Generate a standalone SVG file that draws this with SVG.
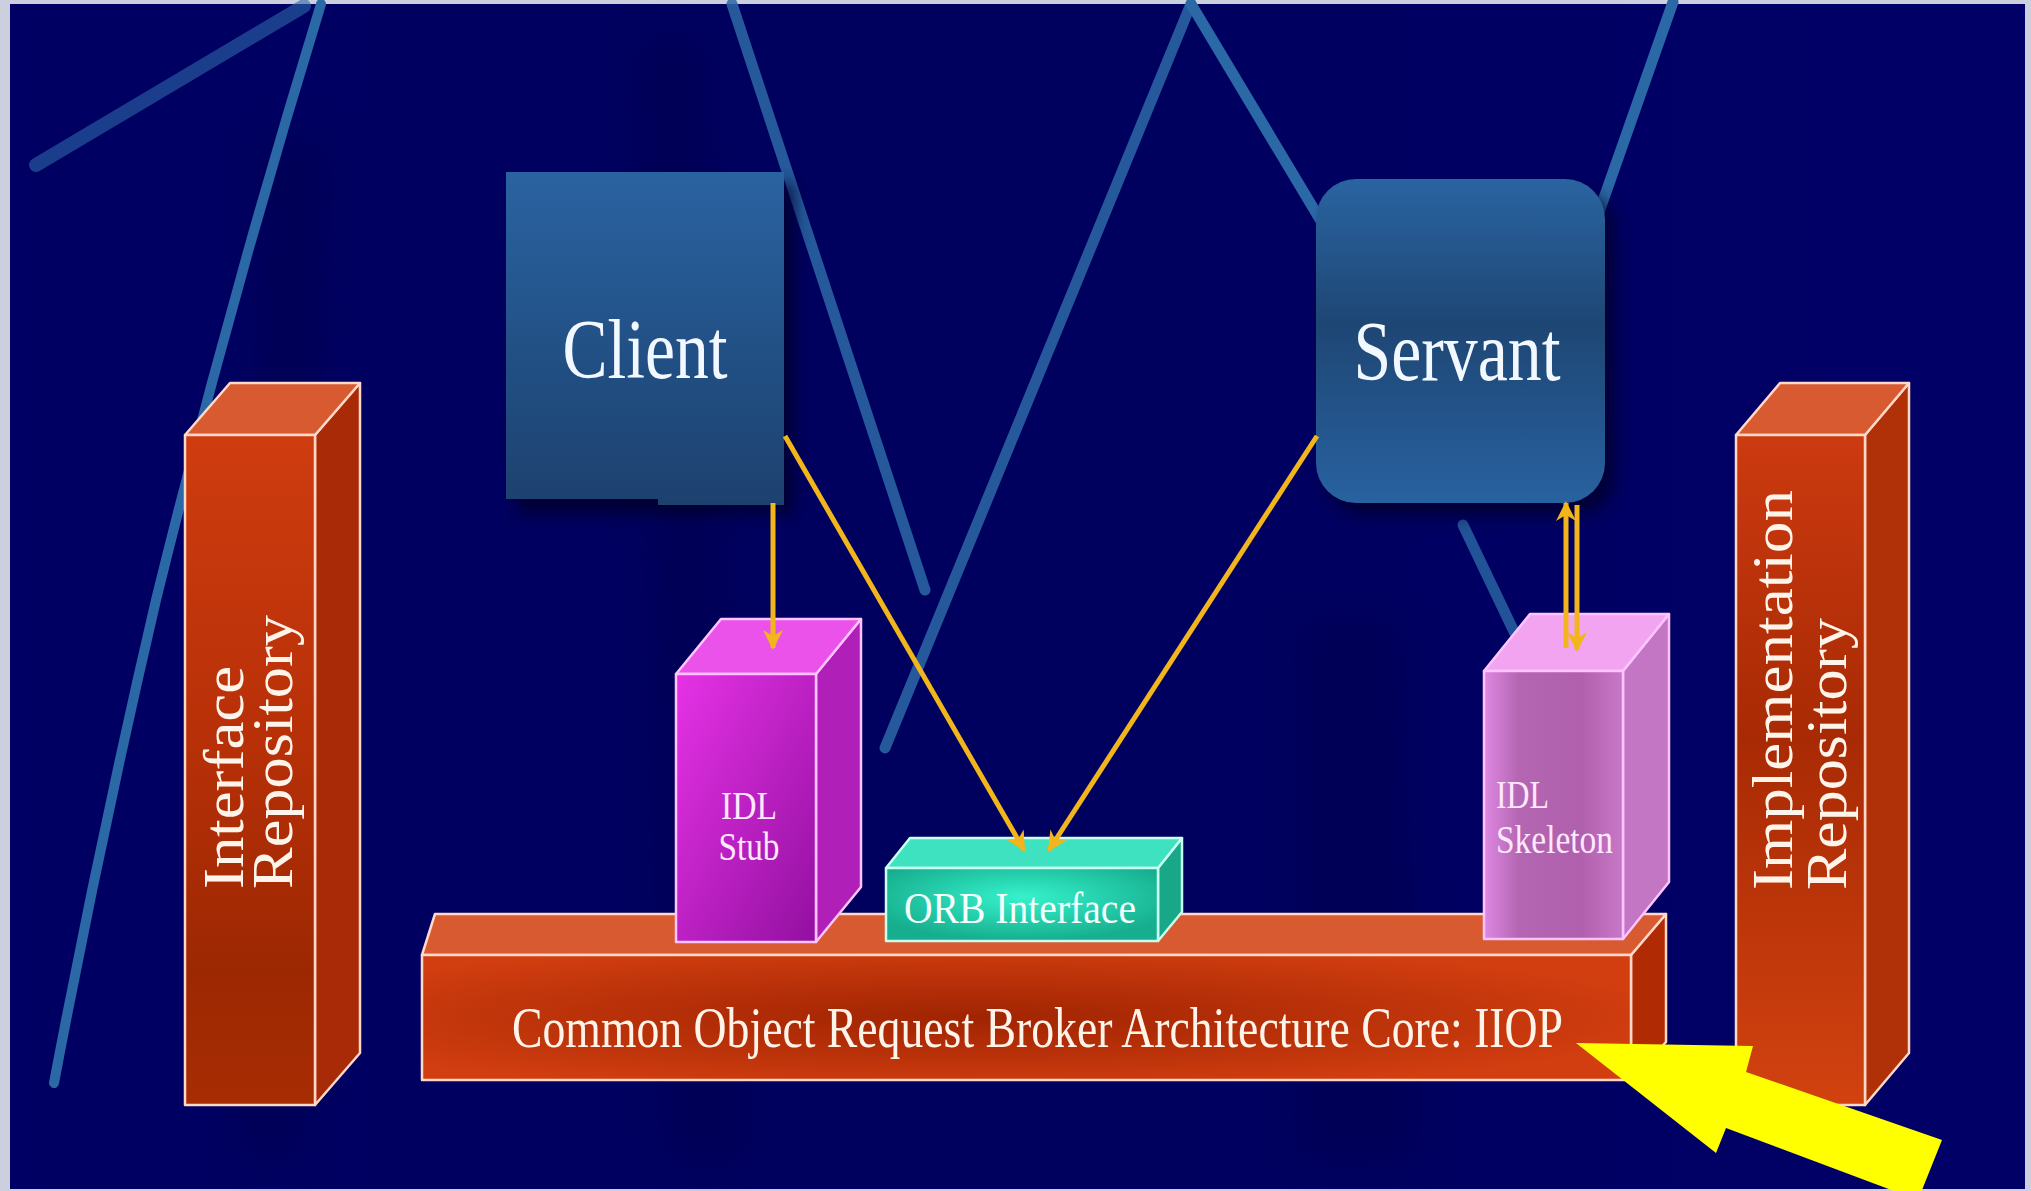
<svg xmlns="http://www.w3.org/2000/svg" width="2031" height="1191" viewBox="0 0 2031 1191">
  <defs>
    <style>
      .serif { font-family: "Liberation Serif", "Times New Roman", serif; }
      .streak { fill: none; stroke: #2b68a6; stroke-linecap: round; }
      .edge-warm { stroke: #ffd8c8; stroke-width: 2.5; stroke-linejoin: round; }
      .edge-pink { stroke: #ffc4ff; stroke-width: 2.5; stroke-linejoin: round; }
      .edge-mint { stroke: #c8fff0; stroke-width: 2.5; stroke-linejoin: round; }
      .label-warm { fill: #fff4ea; }
      .label-pink { fill: #ffe8ff; }
      .wire { fill: none; stroke: #f2b51c; stroke-width: 5; }
    </style>
    <marker id="head" viewBox="0 0 10 10" refX="9" refY="5" markerUnits="userSpaceOnUse" markerWidth="26" markerHeight="20" orient="auto">
      <path d="M0,0 L10,5 L0,10 L3,5 z" fill="#f2b51c"/>
    </marker>
    <linearGradient id="bgShade" x1="0" y1="0" x2="1" y2="0">
      <stop offset="0" stop-color="#000064"/>
      <stop offset="0.5" stop-color="#00005e"/>
      <stop offset="1" stop-color="#000068"/>
    </linearGradient>
    <linearGradient id="clientFill" x1="0" y1="0" x2="0" y2="1">
      <stop offset="0" stop-color="#2a63a1"/>
      <stop offset="0.6" stop-color="#214e82"/>
      <stop offset="1" stop-color="#1d416f"/>
    </linearGradient>
    <linearGradient id="servantFill" x1="0" y1="0" x2="0" y2="1">
      <stop offset="0" stop-color="#2a64a1"/>
      <stop offset="0.45" stop-color="#1e4674"/>
      <stop offset="1" stop-color="#2862a0"/>
    </linearGradient>
    <linearGradient id="repoFront" x1="0" y1="0" x2="0" y2="1">
      <stop offset="0" stop-color="#cf3c10"/>
      <stop offset="0.45" stop-color="#b83008"/>
      <stop offset="0.8" stop-color="#9c2802"/>
      <stop offset="1" stop-color="#a82c04"/>
    </linearGradient>
    <linearGradient id="implFront" x1="0" y1="0" x2="0" y2="1">
      <stop offset="0" stop-color="#cc3a10"/>
      <stop offset="0.45" stop-color="#a82a04"/>
      <stop offset="1" stop-color="#d24210"/>
    </linearGradient>
    <radialGradient id="coreFront" cx="0.45" cy="0.5" r="0.6">
      <stop offset="0" stop-color="#a02402"/>
      <stop offset="1" stop-color="#d23e10"/>
    </radialGradient>
    <linearGradient id="stubFront" x1="0" y1="0" x2="1" y2="1">
      <stop offset="0" stop-color="#e632e6"/>
      <stop offset="1" stop-color="#9210a0"/>
    </linearGradient>
    <linearGradient id="skelFront" x1="0" y1="0" x2="1" y2="0">
      <stop offset="0" stop-color="#de88e2"/>
      <stop offset="0.25" stop-color="#b466b2"/>
      <stop offset="0.7" stop-color="#b060ac"/>
      <stop offset="1" stop-color="#c878c8"/>
    </linearGradient>
    <radialGradient id="orbFront" cx="0.5" cy="0.4" r="0.6">
      <stop offset="0" stop-color="#36f2cc"/>
      <stop offset="1" stop-color="#16ae8e"/>
    </radialGradient>
    <filter id="soft" x="-20%" y="-20%" width="140%" height="140%">
      <feGaussianBlur stdDeviation="8"/>
    </filter>
    <filter id="haze" x="-50%" y="-10%" width="200%" height="120%">
      <feGaussianBlur stdDeviation="20"/>
    </filter>
    <filter id="blur2" x="-10%" y="-200%" width="120%" height="500%">
      <feGaussianBlur stdDeviation="1.5"/>
    </filter>
  </defs>

  <!-- frame and backdrop -->
  <rect x="0" y="0" width="2031" height="1191" fill="#cbcfde"/>
  <rect x="10" y="4" width="2015" height="1185" fill="url(#bgShade)"/>
  <g opacity="0.3" filter="url(#haze)">
    <polygon points="260,140 330,140 300,1160 240,1160" fill="#00003a"/>
    <polygon points="640,40 700,40 740,1160 670,1160" fill="#00003e"/>
    <polygon points="1300,620 1400,620 1420,1160 1300,1160" fill="#00003e"/>
  </g>

  <!-- light streaks across the backdrop -->
  <g id="streaks">
    <path class="streak" d="M304,6 L36,165" stroke="#1c4488" stroke-width="14" opacity="0.6"/>
    <path class="streak" d="M321,4 Q230,300 156,600 Q100,840 54,1083" stroke-width="10"/>
    <path class="streak" d="M732,4 L925,590" stroke-width="11" opacity="0.85"/>
    <path class="streak" d="M1191,4 L885,748" stroke-width="11" opacity="0.85"/>
    <path class="streak" d="M1191,4 L1330,236" stroke-width="11"/>
    <path class="streak" d="M1673,2 L1598,215" stroke-width="11"/>
    <path class="streak" d="M1463,525 L1518,640" stroke-width="11" opacity="0.8"/>
  </g>

  <!-- Interface Repository -->
  <g id="interface-repository">
    <polygon points="315,435 360,383 360,1053 315,1105" fill="#a82a06" class="edge-warm"/>
    <polygon points="185,435 230,383 360,383 315,435" fill="#d85a30" class="edge-warm"/>
    <rect x="185" y="435" width="130" height="670" fill="url(#repoFront)" class="edge-warm"/>
    <text class="serif label-warm" font-size="58" transform="translate(243,889) rotate(-90)" textLength="223" lengthAdjust="spacingAndGlyphs">Interface</text>
    <text class="serif label-warm" font-size="58" transform="translate(292,889) rotate(-90)" textLength="274" lengthAdjust="spacingAndGlyphs">Repository</text>
  </g>

  <!-- Implementation Repository -->
  <g id="implementation-repository">
    <polygon points="1865,435 1909,383 1909,1053 1865,1105" fill="#b03008" class="edge-warm"/>
    <polygon points="1736,435 1780,383 1909,383 1865,435" fill="#d85a30" class="edge-warm"/>
    <rect x="1736" y="435" width="129" height="670" fill="url(#implFront)" class="edge-warm"/>
    <text class="serif label-warm" font-size="58" transform="translate(1792,890) rotate(-90)" textLength="400" lengthAdjust="spacingAndGlyphs">Implementation</text>
    <text class="serif label-warm" font-size="58" transform="translate(1846,890) rotate(-90)" textLength="272" lengthAdjust="spacingAndGlyphs">Repository</text>
  </g>

  <!-- Client -->
  <g id="client">
    <rect x="516" y="184" width="278" height="330" fill="#00002a" opacity="0.8" filter="url(#soft)"/>
    <path d="M506,172 H784 V505 H658 V499 H506 Z" fill="url(#clientFill)"/>
    <text class="serif" font-size="84" fill="#f2f8ff" x="645" y="378" text-anchor="middle" textLength="165" lengthAdjust="spacingAndGlyphs">Client</text>
  </g>

  <!-- Servant -->
  <g id="servant">
    <rect x="1326" y="191" width="289" height="324" rx="40" fill="#00002a" opacity="0.8" filter="url(#soft)"/>
    <rect x="1316" y="179" width="289" height="324" rx="40" fill="url(#servantFill)"/>
    <text class="serif" font-size="84" fill="#f2f8ff" x="1457" y="380" text-anchor="middle" textLength="207" lengthAdjust="spacingAndGlyphs">Servant</text>
  </g>

  <!-- CORBA core bar -->
  <g id="corba-core">
    <polygon points="1631,955 1666,914 1666,1042 1631,1080" fill="#b02a04" class="edge-warm"/>
    <polygon points="422,955 435,914 1666,914 1631,955" fill="#d85a30" class="edge-warm"/>
    <rect x="422" y="955" width="1209" height="125" fill="url(#coreFront)" class="edge-warm"/>
    <text class="serif label-warm" font-size="56" x="512" y="1047" textLength="1051" lengthAdjust="spacingAndGlyphs">Common Object Request Broker Architecture Core: IIOP</text>
  </g>

  <!-- IDL Stub -->
  <g id="idl-stub">
    <polygon points="816,674 861,619 861,887 816,942" fill="#b020b8" class="edge-pink"/>
    <polygon points="676,674 721,619 861,619 816,674" fill="#ea52ea" class="edge-pink"/>
    <rect x="676" y="674" width="140" height="268" fill="url(#stubFront)" class="edge-pink"/>
    <text class="serif label-pink" font-size="40" x="749" y="819" text-anchor="middle" textLength="56" lengthAdjust="spacingAndGlyphs">IDL</text>
    <text class="serif label-pink" font-size="40" x="749" y="860" text-anchor="middle" textLength="61" lengthAdjust="spacingAndGlyphs">Stub</text>
  </g>

  <!-- ORB Interface -->
  <g id="orb-interface">
    <polygon points="1158,868 1182,838 1182,912 1158,941" fill="#18a888" class="edge-mint"/>
    <polygon points="886,868 910,838 1182,838 1158,868" fill="#3ee2c0" class="edge-mint"/>
    <rect x="886" y="868" width="272" height="73" fill="url(#orbFront)" class="edge-mint"/>
    <text class="serif" font-size="44" fill="#f4fffc" x="904" y="923" textLength="232" lengthAdjust="spacingAndGlyphs">ORB Interface</text>
  </g>

  <!-- IDL Skeleton -->
  <g id="idl-skeleton">
    <polygon points="1623,671 1669,614 1669,882 1623,939" fill="#c276c4" class="edge-pink"/>
    <polygon points="1484,671 1530,614 1669,614 1623,671" fill="#f2a4f0" class="edge-pink"/>
    <rect x="1484" y="671" width="139" height="268" fill="url(#skelFront)" class="edge-pink"/>
    <text class="serif label-pink" font-size="40" x="1496" y="808" textLength="53" lengthAdjust="spacingAndGlyphs">IDL</text>
    <text class="serif label-pink" font-size="40" x="1496" y="853" textLength="117" lengthAdjust="spacingAndGlyphs">Skeleton</text>
  </g>

  <!-- request paths between the parts -->
  <g id="connectors">
    <line class="wire" x1="773" y1="503" x2="773" y2="648" marker-end="url(#head)"/>
    <line class="wire" x1="785" y1="436" x2="1024" y2="850" marker-end="url(#head)"/>
    <line class="wire" x1="1317" y1="436" x2="1049" y2="850" marker-end="url(#head)"/>
    <line class="wire" x1="1566" y1="648" x2="1566" y2="503" marker-end="url(#head)"/>
    <line class="wire" x1="1577" y1="505" x2="1577" y2="650" marker-end="url(#head)"/>
  </g>

  <!-- pointer to the protocol name -->
  <g id="pointer">
    <polygon points="1576,1043 1753,1046 1746,1072 1942,1140 1918,1200 1726,1128 1716,1153" fill="#ffff00"/>
  </g>

  <!-- stray rule under the bar -->
  <line x1="1246" y1="1115" x2="1478" y2="1115" stroke="#000012" stroke-width="5" filter="url(#blur2)"/>
</svg>
